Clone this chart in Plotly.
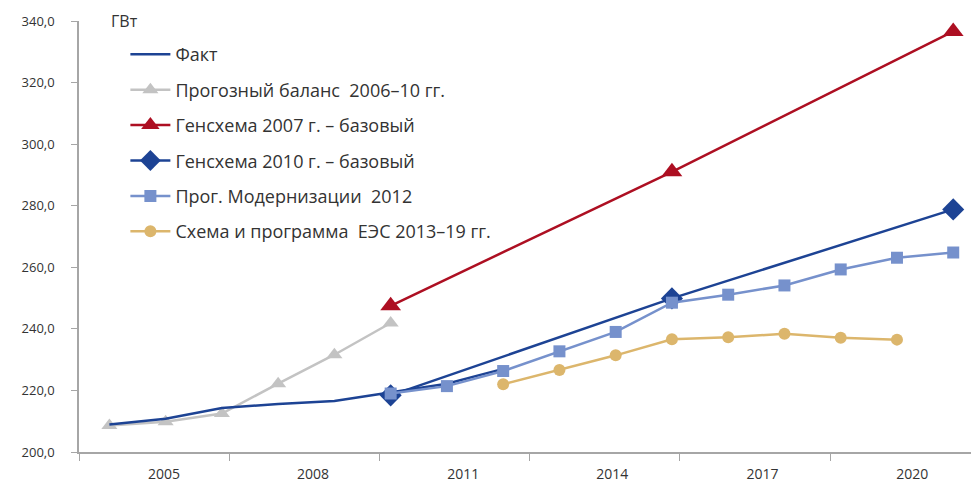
import plotly.graph_objects as go

# ---- data ----
years_fact = [2005, 2006, 2007, 2008, 2009, 2010, 2011, 2012]
fact = [208.9, 210.8, 214.3, 215.6, 216.6, 219.5, 222.2, 227.0]

years_bal = [2005, 2006, 2007, 2008, 2009, 2010]
balance_2006 = [208.6, 209.8, 212.5, 222.2, 231.6, 241.9]

years_gs = [2010, 2015, 2020]
genscheme_2007 = [247.5, 291.0, 336.6]
genscheme_2010 = [218.4, 249.9, 278.8]

years_mod = [2010, 2011, 2012, 2013, 2014, 2015, 2016, 2017, 2018, 2019, 2020]
modern_2012 = [219.0, 221.4, 226.3, 232.7, 239.0, 248.5, 251.1, 254.1, 259.3, 263.1, 264.8]

years_ees = [2012, 2013, 2014, 2015, 2016, 2017, 2018, 2019]
ees_2013 = [222.0, 226.6, 231.4, 236.6, 237.3, 238.4, 237.1, 236.5]

x_tick_labels = ["2005", "2008", "2011", "2014", "2017", "2020"]
x_label_pos = [2005.97, 2008.62, 2011.29, 2013.94, 2016.61, 2019.27]
x_tick_pos = [2004.46, 2007.13, 2009.80, 2012.47, 2015.14, 2017.81]

names = [
    "Факт",
    "Прогозный баланс\u00a0 2006\u201310 гг.",
    "Генсхема 2007 г. \u2013 базовый",
    "Генсхема 2010 г. \u2013 базовый",
    "Прог. Модернизации\u00a0 2012",
    "Схема и программа\u00a0 ЕЭС 2013\u201319 гг.",
]

C_FACT = "#1d4394"
C_GRAY = "#c3c3c3"
C_RED = "#ad0f22"
C_DIAM = "#1d4394"
C_SQ = "#7691cc"
C_CIR = "#dcb66c"

fig = go.Figure()

fig.add_trace(go.Scatter(x=years_bal, y=balance_2006, name=names[1], legendrank=2,
                         mode="lines+markers", line=dict(color=C_GRAY, width=2.5),
                         marker=dict(symbol="triangle-up", size=14, color=C_GRAY)))
fig.add_trace(go.Scatter(x=years_fact, y=fact, name=names[0], legendrank=1,
                         mode="lines", line=dict(color=C_FACT, width=2.5)))
fig.add_trace(go.Scatter(x=years_gs, y=genscheme_2007, name=names[2], legendrank=3,
                         mode="lines+markers", line=dict(color=C_RED, width=2.5),
                         marker=dict(symbol="triangle-up", size=18, color=C_RED)))
fig.add_trace(go.Scatter(x=years_gs, y=genscheme_2010, name=names[3], legendrank=4,
                         mode="lines+markers", line=dict(color=C_DIAM, width=2.5),
                         marker=dict(symbol="diamond", size=17, color=C_DIAM)))
fig.add_trace(go.Scatter(x=years_mod, y=modern_2012, name=names[4], legendrank=5,
                         mode="lines+markers", line=dict(color=C_SQ, width=2.5),
                         marker=dict(symbol="square", size=12, color=C_SQ)))
fig.add_trace(go.Scatter(x=years_ees, y=ees_2013, name=names[5], legendrank=6,
                         mode="lines+markers", line=dict(color=C_CIR, width=2.5),
                         marker=dict(symbol="circle", size=12, color=C_CIR)))

for i, tr in enumerate(fig.data):
    tr.legendgroup = "g%d" % i
    tr.cliponaxis = False

x_range = [2004.46, 2020.316]

fig.update_layout(
    width=971, height=483,
    margin=dict(l=79, r=0, t=21, b=31),
    paper_bgcolor="white", plot_bgcolor="white",
    separators=", ",
    font=dict(family="Open Sans", color="#333333"),
    showlegend=True,
    legend=dict(x=0.052, y=0.965, xanchor="left", yanchor="top",
                bgcolor="rgba(0,0,0,0)", font=dict(size=18, color="#333333"),
                traceorder="grouped", tracegroupgap=9, itemwidth=40),
    xaxis=dict(range=x_range, showgrid=False, zeroline=False,
               showline=True, linecolor="#a6a6a6", linewidth=1.5,
               tickmode="array", tickvals=x_tick_pos, ticktext=[""] * len(x_tick_pos),
               ticks="outside", ticklen=7, tickcolor="#a6a6a6", tickwidth=1),
    xaxis2=dict(range=x_range, overlaying="x", anchor="y", side="bottom",
                showgrid=False, zeroline=False, showline=False,
                tickmode="array", tickvals=x_label_pos, ticktext=x_tick_labels,
                ticks="", ticklabelstandoff=12,
                tickfont=dict(family="Open Sans", size=14, color="#333333")),
    yaxis=dict(range=[200, 340], tickmode="linear", tick0=200, dtick=20,
               tickformat=".1f", showgrid=False, zeroline=False,
               showline=True, linecolor="#a6a6a6", linewidth=1.5,
               ticks="outside", ticklen=6, tickcolor="#a6a6a6", tickwidth=1,
               ticklabelstandoff=14,
               tickfont=dict(family="Open Sans", size=13, color="#333333")),
    annotations=[dict(text="ГВт", xref="paper", yref="paper", x=0.034, y=1.0,
                      xanchor="left", yanchor="middle", showarrow=False,
                      font=dict(size=16, color="#333333"))],
)

# invisible trace so xaxis2 (year labels) is drawn
fig.add_trace(go.Scatter(x=[x_range[0]], y=[200], xaxis="x2", mode="markers",
                         marker=dict(opacity=0), showlegend=False, hoverinfo="skip"))

fig.write_html("out.html", config={"displayModeBar": False},
               post_script="document.body.style.margin='0px';")
